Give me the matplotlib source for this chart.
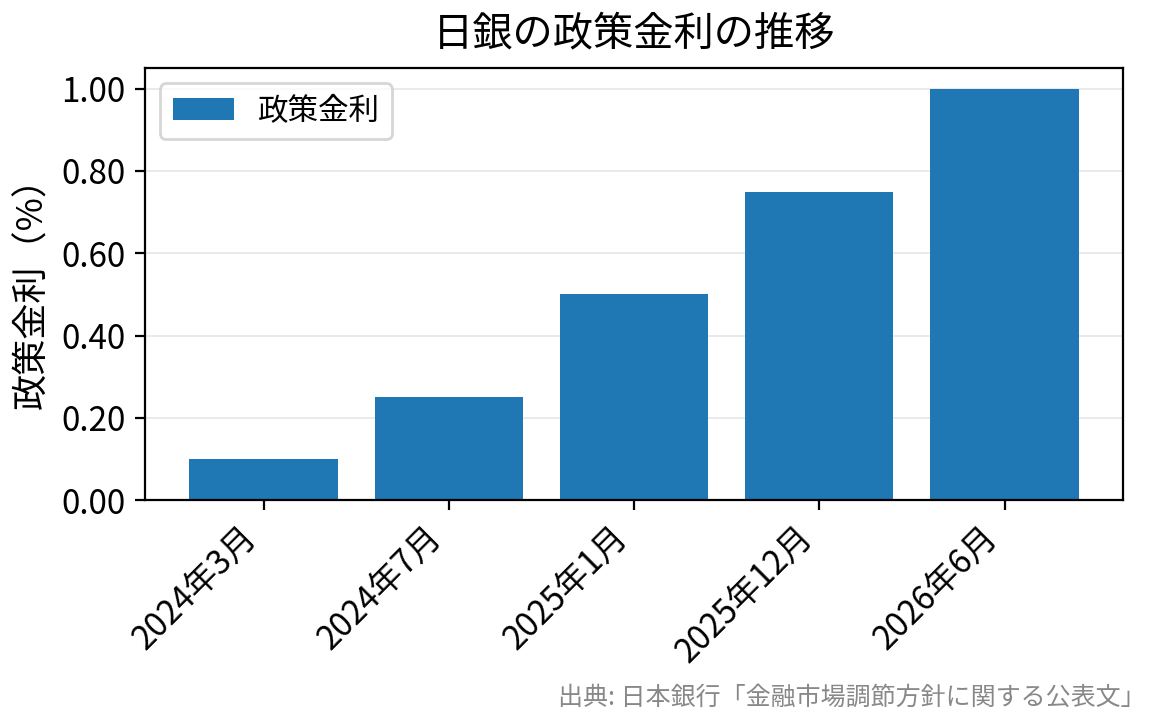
import matplotlib
matplotlib.use("Agg")
import matplotlib.pyplot as plt

plt.rcParams["font.family"] = ["Noto Sans CJK JP", "DejaVu Sans"]

# data
dates = ["2024年3月", "2024年7月", "2025年1月", "2025年12月", "2026年6月"]
rates = [0.10, 0.25, 0.50, 0.75, 1.00]

fig = plt.figure(figsize=(5.825, 3.625), dpi=200)
ax = fig.add_axes([0.1245, 0.3103, 0.8395, 0.5957])

ax.bar(dates, rates, width=0.8, color="#1f77b4", label="政策金利", zorder=2)

ax.set_title("日銀の政策金利の推移", fontsize=14.5, pad=8)
ax.set_ylabel("政策金利（%）", fontsize=13)
ax.set_ylim(0, 1.05)
ax.yaxis.set_major_formatter(matplotlib.ticker.FormatStrFormatter("%.2f"))
ax.tick_params(axis="both", labelsize=12)
plt.setp(ax.get_xticklabels(), rotation=45, ha="right")

ax.grid(axis="y", color="#e6e6e6", linewidth=0.6, zorder=0)
ax.set_axisbelow(True)
ax.legend(loc="upper left", fontsize=11)

fig.text(0.983, 0.02, "出典: 日本銀行「金融市場調節方針に関する公表文」",
         ha="right", va="bottom", fontsize=9, color="#888888")

fig.savefig("out.png", dpi=200)
